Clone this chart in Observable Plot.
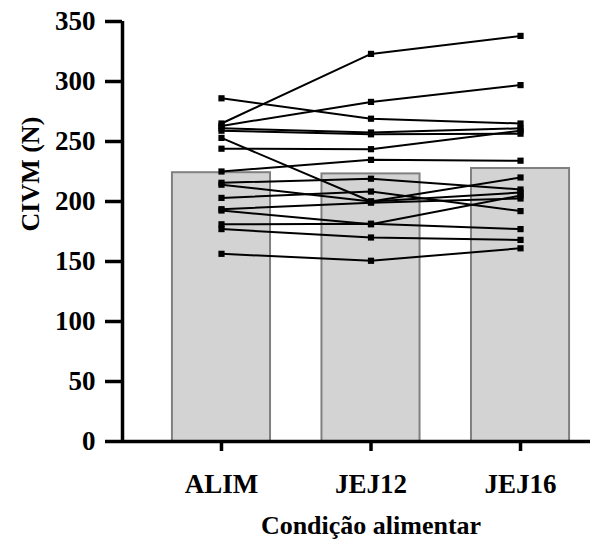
<!DOCTYPE html>
<html><head><meta charset="utf-8">
<script src="https://cdn.jsdelivr.net/npm/d3@7"></script>
<script src="https://cdn.jsdelivr.net/npm/@observablehq/plot@0.6"></script>
<style>
body{margin:0;background:#fff}
</style>
</head><body><div id="chart"></div>
<script>
const conditions = ["ALIM", "JEJ12", "JEJ16"];
const meanValues = [224, 223, 227.5];
const alim  = [286, 265, 263, 261, 259, 253, 244, 225, 215.6, 214, 203, 193.6, 192.5, 181, 177, 156.4];
const jej12 = [269, 323, 283, 257.5, 256, 200, 243.6, 234.7, 219, 200, 208.3, 199, 181, 181.5, 170, 150.6];
const jej16 = [265, 338, 297, 261, 256.5, 220, 259, 234, 210, 207.5, 192, 202.5, 205, 177, 168, 161];
const yTicks = [0, 50, 100, 150, 200, 250, 300, 350];
const xTitle = "Condição alimentar";
const yTitle = "CIVM (N)";

const bars = conditions.map((c, i) => ({pos: i, value: meanValues[i]}));
const series = [alim, jej12, jej16];
const points = [];
alim.forEach((_, s) => conditions.forEach((c, k) => points.push({subject: s, pos: k, value: series[k][s]})));

const font = "Liberation Serif, Times New Roman, serif";
const half = 0.328;
const chart = Plot.plot({
  width: 609, height: 545,
  marginLeft: 122, marginRight: 19, marginTop: 21, marginBottom: 104,
  style: {fontFamily: font, fontSize: "26px", fontWeight: "bold", background: "white", color: "black"},
  x: {domain: [-0.662, 2.468], label: null},
  y: {domain: [0, 350], label: null},
  marks: [
    Plot.rectY(bars, {x1: d => d.pos - half, x2: d => d.pos + half, y: "value", fill: "#d3d3d3", stroke: "#808080", strokeWidth: 2}),
    Plot.line(points, {x: "pos", y: "value", z: "subject", stroke: "black", strokeWidth: 2}),
    Plot.dot(points, {x: "pos", y: "value", symbol: "square", fill: "black", stroke: "none", r: 3.5}),
    Plot.ruleY([0], {stroke: "black", strokeWidth: 3.5}),
    Plot.ruleX([-0.662], {y1: 0, y2: 350, stroke: "black", strokeWidth: 3.5}),
    Plot.axisY(yTicks, {tickSize: 17, tickPadding: 10, stroke: "black", strokeWidth: 3.5, fontSize: 27, fontFamily: font, fontWeight: "bold", label: null}),
    Plot.axisX([0, 1, 2], {tickSize: 10, tickPadding: 22, tickFormat: i => conditions[i], stroke: "black", strokeWidth: 3.5, fontSize: 27, fontFamily: font, fontWeight: "bold", label: null}),
    Plot.text([1], {x: d => d, text: () => xTitle, frameAnchor: "bottom", dy: 84, fontSize: 26, fontFamily: font, fontWeight: "bold", lineAnchor: "middle"}),
    Plot.text([yTitle], {frameAnchor: "left", rotate: -90, dx: -92, fontSize: 26, fontFamily: font, fontWeight: "bold", lineAnchor: "middle"})
  ]
});
document.getElementById("chart").appendChild(chart);
</script>
</body></html>
